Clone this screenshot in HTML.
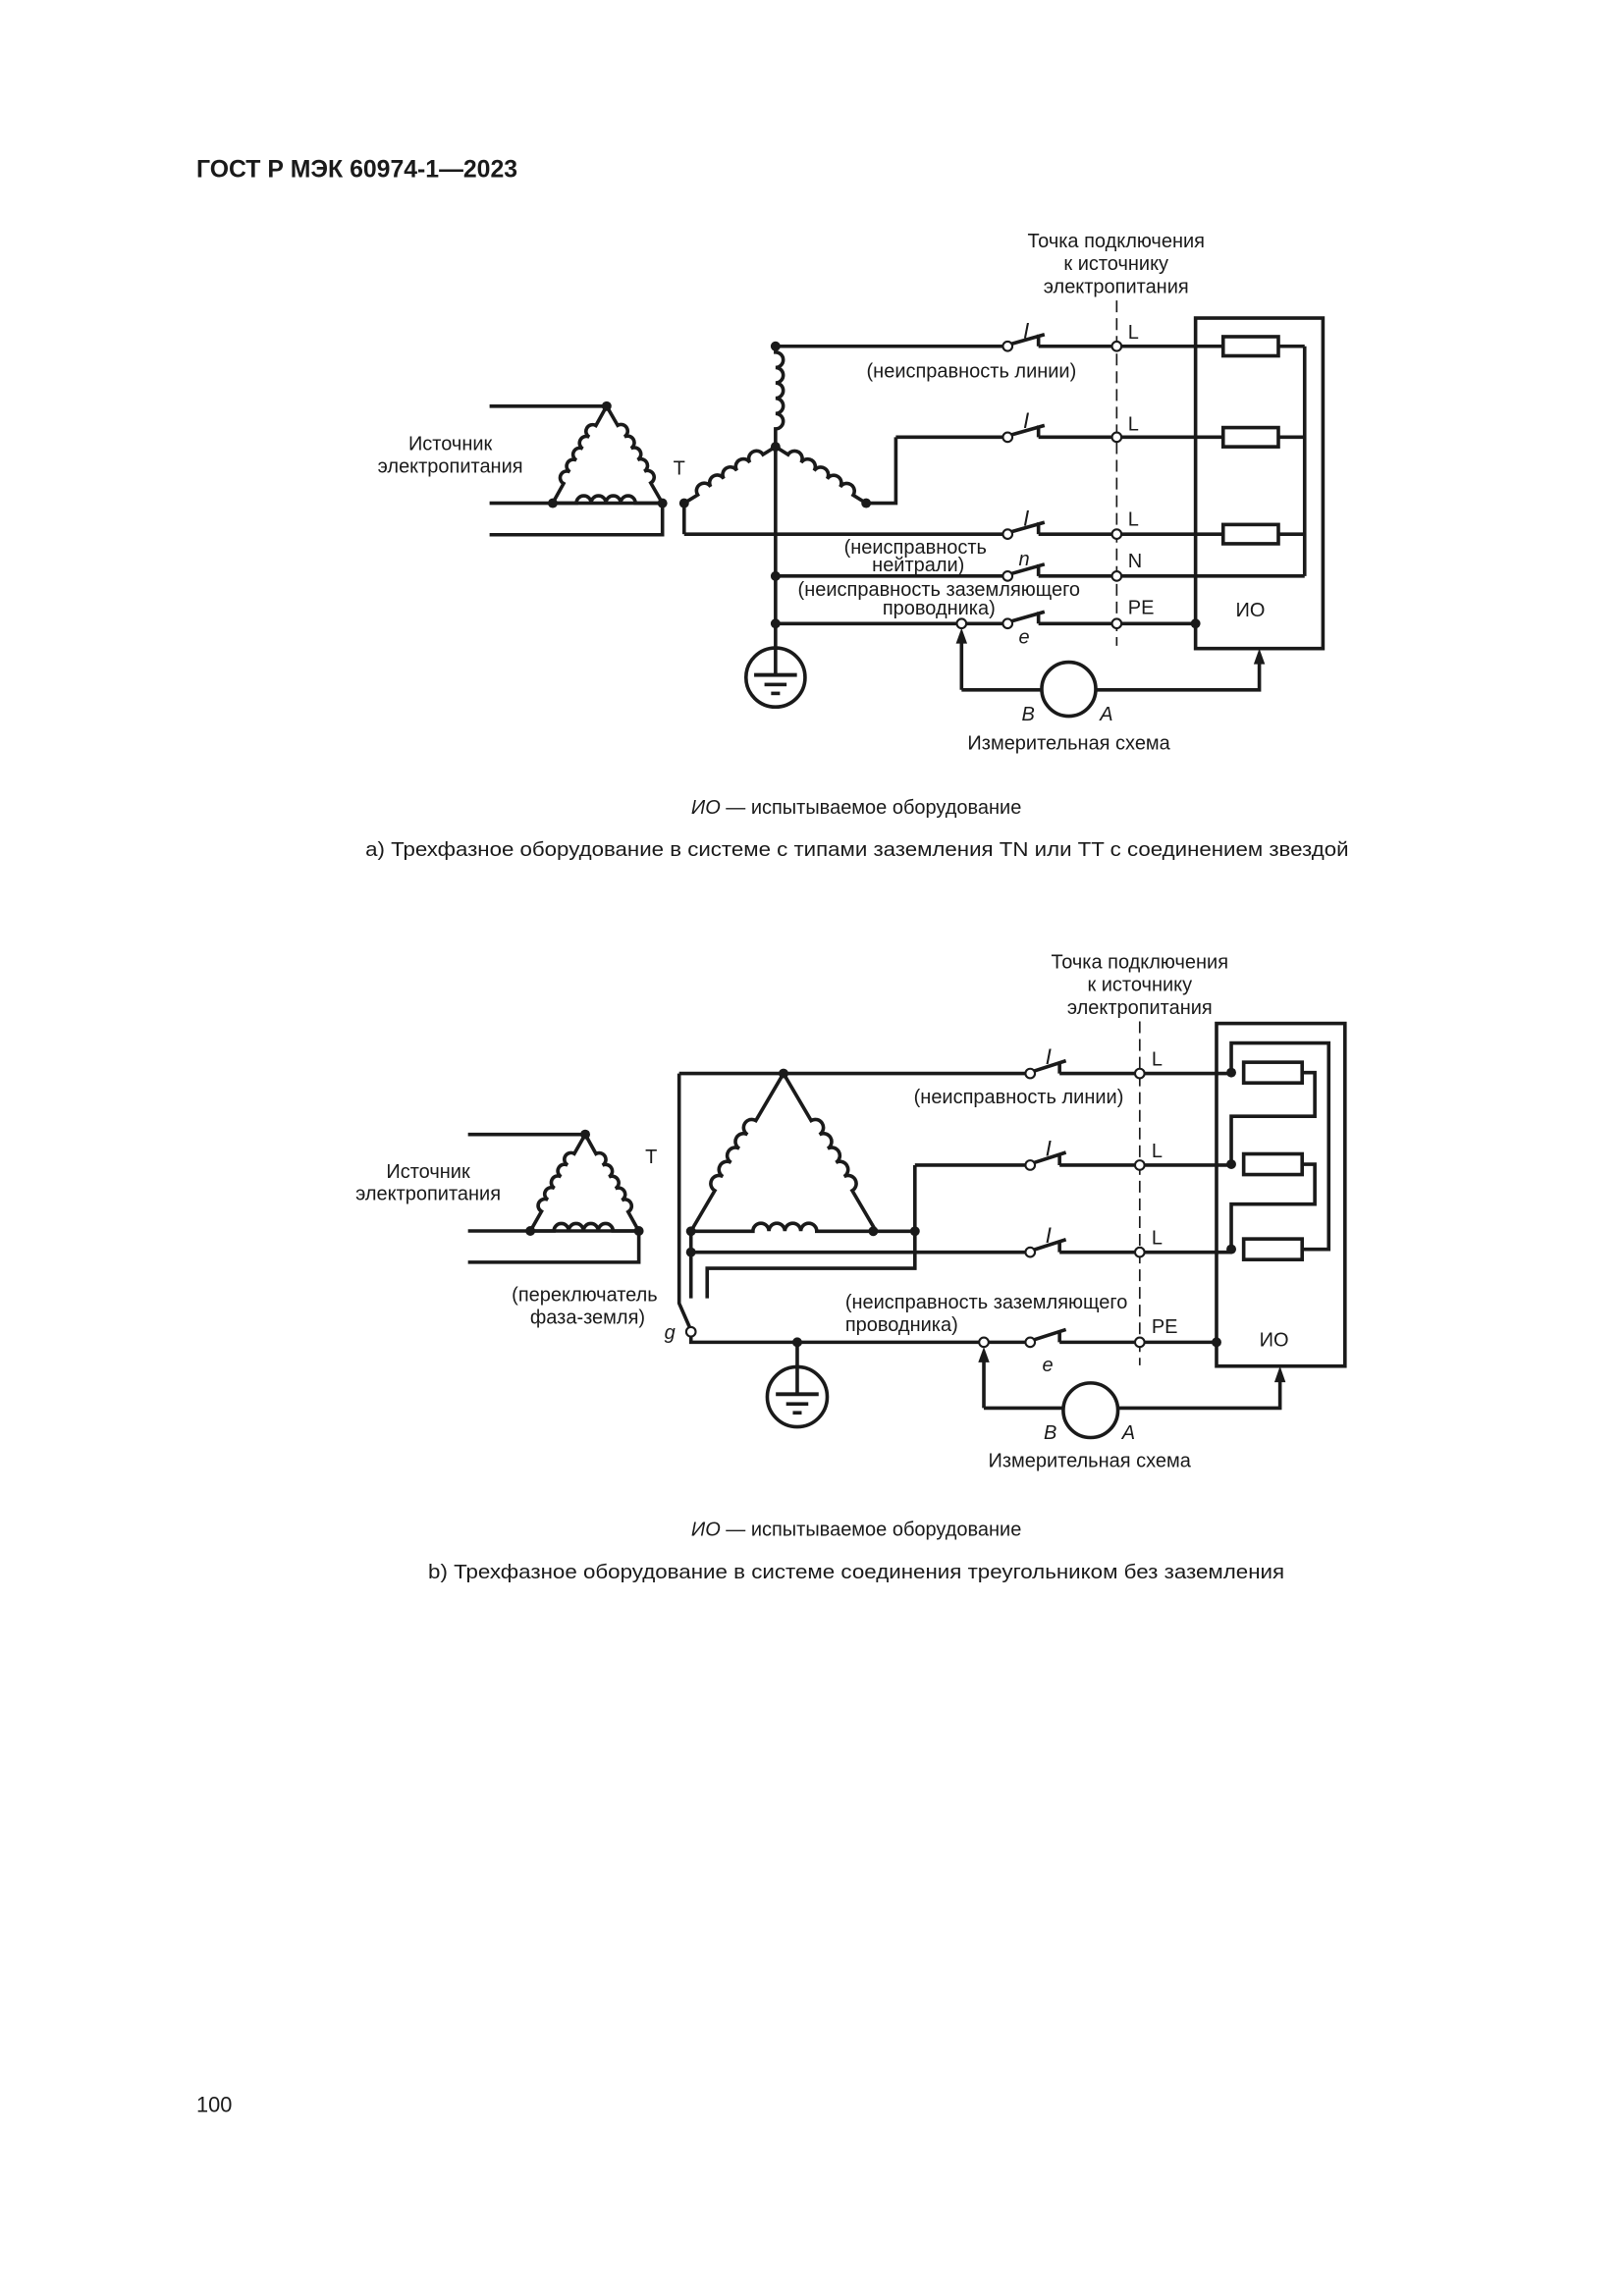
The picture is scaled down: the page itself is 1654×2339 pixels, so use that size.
<!DOCTYPE html>
<html><head><meta charset="utf-8"><style>
html,body{margin:0;padding:0;background:#fff;}
svg{display:block;}
text{font-family:"Liberation Sans",sans-serif;fill:#1a1a1a;}
.it{font-family:"Liberation Serif",serif;font-style:italic;}
.is{font-style:italic;}
</style></head><body>
<svg width="1654" height="2339" viewBox="0 0 1100 1555.6" xmlns="http://www.w3.org/2000/svg">
<g fill="none" stroke="#1a1a1a" stroke-width="2.4" stroke-linejoin="miter">
<path d="M331.6 275.2 H410.9 M331.6 340.9 H448.7 M331.6 362.3 H448.7 V340.9"/>
<g transform="translate(410.9 275.2) rotate(119.1)"><path d="M0 0 H15 a4.5 4.5 0 0 0 9 0 a4.5 4.5 0 0 0 9 0 a4.5 4.5 0 0 0 9 0 a4.5 4.5 0 0 0 9 0 a4.5 4.5 0 0 0 9 0 H75.2"/></g>
<g transform="translate(410.9 275.2) rotate(60.1)"><path d="M0 0 H15 a4.5 4.5 0 0 1 9 0 a4.5 4.5 0 0 1 9 0 a4.5 4.5 0 0 1 9 0 a4.5 4.5 0 0 1 9 0 a4.5 4.5 0 0 1 9 0 H75.8"/></g>
<g transform="translate(374.4 340.9)"><path d="M0 0 H16 a5 5 0 0 1 10 0 a5 5 0 0 1 10 0 a5 5 0 0 1 10 0 a5 5 0 0 1 10 0 H74.3"/></g>
<g transform="translate(525.3 234.6) rotate(90)"><path d="M0 0 H4 a5.2 5.2 0 0 1 10.4 0 a5.2 5.2 0 0 1 10.4 0 a5.2 5.2 0 0 1 10.4 0 a5.2 5.2 0 0 1 10.4 0 a5.2 5.2 0 0 1 10.4 0 H68.1"/></g>
<g transform="translate(525.3 302.7) rotate(148.3)"><path d="M0 0 H10 a5.2 5.2 0 0 0 10.4 0 a5.2 5.2 0 0 0 10.4 0 a5.2 5.2 0 0 0 10.4 0 a5.2 5.2 0 0 0 10.4 0 a5.2 5.2 0 0 0 10.4 0 H72.7"/></g>
<g transform="translate(525.3 302.7) rotate(31.9)"><path d="M0 0 H10 a5.2 5.2 0 0 1 10.4 0 a5.2 5.2 0 0 1 10.4 0 a5.2 5.2 0 0 1 10.4 0 a5.2 5.2 0 0 1 10.4 0 a5.2 5.2 0 0 1 10.4 0 H72.3"/></g>
<path d="M525.3 302.7 V457"/>
<path d="M586.7 340.9 H606.8 V296.2"/>
<path d="M463.4 340.9 V361.9"/>
<path d="M525.3 234.6 H679.5 M703.4 234.6 H828.5"/>
<path d="M606.8 296.2 H679.5 M703.4 296.2 H828.5"/>
<path d="M463.4 361.9 H679.5 M703.4 361.9 H828.5"/>
<path d="M525.3 390.3 H679.5 M703.4 390.3 H883.7"/>
<path d="M525.3 422.5 H679.5 M703.4 422.5 H809.8"/>
<path d="M703.4 234.6 v-8 M685 233 L707.5 226.6 M703.4 296.2 v-8 M685 294.6 L707.5 288.2 M703.4 361.9 v-8 M685 360.3 L707.5 353.9 M703.4 390.3 v-8 M685 388.7 L707.5 382.3 M703.4 422.5 v-8 M685 420.9 L707.5 414.5"/>
<rect x="809.8" y="215.5" width="86.3" height="223.9"/>
<rect x="828.5" y="228.1" width="37.4" height="13"/>
<rect x="828.5" y="289.7" width="37.4" height="13"/>
<rect x="828.5" y="355.4" width="37.4" height="13"/>
<path d="M865.9 234.6 H883.7 M865.9 296.2 H883.7 M865.9 361.9 H883.7 M883.7 234.6 V390.3"/>
<path d="M756.4 203.6 V437.5" stroke-width="1.1" stroke-dasharray="8 4"/>
<circle cx="525.3" cy="459" r="20"/>
<path d="M651.3 467.4 V432 M651.3 467.4 H705.6 M742.2 467.4 H853 V448"/>
<circle cx="723.9" cy="466.9" r="18.3"/>
</g>
<g fill="#1a1a1a">
<circle cx="410.9" cy="275.2" r="3.3"/><circle cx="374.4" cy="340.9" r="3.3"/><circle cx="448.7" cy="340.9" r="3.3"/>
<circle cx="463.4" cy="340.9" r="3.3"/><circle cx="586.7" cy="340.9" r="3.3"/><circle cx="525.3" cy="302.7" r="3.3"/>
<circle cx="525.3" cy="234.6" r="3.3"/><circle cx="525.3" cy="390.3" r="3.3"/><circle cx="525.3" cy="422.5" r="3.3"/>
<circle cx="809.8" cy="422.5" r="3.3"/>
<rect x="510.8" y="456" width="29" height="2.6"/><rect x="517.8" y="462.6" width="15" height="2.4"/><rect x="522.3" y="468.6" width="6" height="2.4"/>
<path d="M651.3 425.5 L647.5 436 L655.1 436 Z"/><path d="M853 439.4 L849.2 450 L856.8 450 Z"/>
</g>
<g fill="#fff" stroke="#1a1a1a" stroke-width="1.4">
<circle cx="682.5" cy="234.6" r="3.2"/><circle cx="682.5" cy="296.2" r="3.2"/><circle cx="682.5" cy="361.9" r="3.2"/><circle cx="682.5" cy="390.3" r="3.2"/><circle cx="682.5" cy="422.5" r="3.2"/>
<circle cx="756.4" cy="234.6" r="3.2"/><circle cx="756.4" cy="296.2" r="3.2"/><circle cx="756.4" cy="361.9" r="3.2"/><circle cx="756.4" cy="390.3" r="3.2"/><circle cx="756.4" cy="422.5" r="3.2"/>
<circle cx="651.3" cy="422.5" r="3.2"/>
</g>

<g fill="none" stroke="#1a1a1a" stroke-width="2.4">
<path d="M317 768.6 H396.4 M317 834 H432.7 M317 855.2 H432.7 V834"/>
<g transform="translate(396.4 768.6) rotate(119.6)"><path d="M0 0 H15 a4.5 4.5 0 0 0 9 0 a4.5 4.5 0 0 0 9 0 a4.5 4.5 0 0 0 9 0 a4.5 4.5 0 0 0 9 0 a4.5 4.5 0 0 0 9 0 H75.2"/></g>
<g transform="translate(396.4 768.6) rotate(61)"><path d="M0 0 H15 a4.5 4.5 0 0 1 9 0 a4.5 4.5 0 0 1 9 0 a4.5 4.5 0 0 1 9 0 a4.5 4.5 0 0 1 9 0 a4.5 4.5 0 0 1 9 0 H75.4"/></g>
<g transform="translate(359.2 834)"><path d="M0 0 H16 a5 5 0 0 1 10 0 a5 5 0 0 1 10 0 a5 5 0 0 1 10 0 a5 5 0 0 1 10 0 H73.5"/></g>
<g transform="translate(530.7 727.3) rotate(120.4)"><path d="M0 0 H37 a5.5 5.5 0 0 0 11 0 a5.5 5.5 0 0 0 11 0 a5.5 5.5 0 0 0 11 0 a5.5 5.5 0 0 0 11 0 a5.5 5.5 0 0 0 11 0 H123.9"/></g>
<g transform="translate(530.7 727.3) rotate(59.6)"><path d="M0 0 H37 a5.5 5.5 0 0 1 11 0 a5.5 5.5 0 0 1 11 0 a5.5 5.5 0 0 1 11 0 a5.5 5.5 0 0 1 11 0 a5.5 5.5 0 0 1 11 0 H124.5"/></g>
<g transform="translate(468 834.2)"><path d="M0 0 H42 a5.4 5.4 0 0 1 10.8 0 a5.4 5.4 0 0 1 10.8 0 a5.4 5.4 0 0 1 10.8 0 a5.4 5.4 0 0 1 10.8 0 H151.7"/></g>
<path d="M619.7 789.4 V859.3 H479 V879.6"/>
<path d="M468 834.2 V879.6"/>
<path d="M460 727.3 H694.8 M717.7 727.3 H834"/>
<path d="M619.7 789.4 H694.8 M717.7 789.4 H834"/>
<path d="M468 848.4 H694.8 M717.7 848.4 H834"/>
<path d="M460 727.3 V883 L467 899"/>
<path d="M468 905 V909.4 H694.8 M717.7 909.4 H824"/>
<path d="M717.7 727.3 v-8 M700.2 725.7 L722 718.7 M717.7 789.4 v-8 M700.2 787.8 L722 780.8 M717.7 848.4 v-8 M700.2 846.8 L722 839.8 M717.7 909.4 v-8 M700.2 907.8 L722 900.8"/>
<rect x="824" y="693.4" width="87" height="232.2"/>
<rect x="842.4" y="719.7" width="39.6" height="14"/>
<rect x="842.4" y="781.8" width="39.6" height="14"/>
<rect x="842.4" y="839.4" width="39.6" height="14"/>
<path d="M882 726.7 H890.6 V756.3 H834 V788.8 M882 788.8 H890.6 V815.8 H834 V846.4 M882 846.4 H900 V706.7 H834 V726.7"/>
<path d="M772 692 V925" stroke-width="1.1" stroke-dasharray="8 4"/>
<path d="M540 909.4 V944"/>
<circle cx="540" cy="946.4" r="20.3"/>
<path d="M666.4 954 V919 M666.4 954 H720.2 M757.2 954 H867 V936"/>
<circle cx="738.7" cy="955.5" r="18.5"/>
</g>
<g fill="#1a1a1a">
<circle cx="396.4" cy="768.6" r="3.3"/><circle cx="359.2" cy="834" r="3.3"/><circle cx="432.7" cy="834" r="3.3"/>
<circle cx="530.7" cy="727.3" r="3.3"/><circle cx="468" cy="834.2" r="3.3"/><circle cx="591.5" cy="834.2" r="3.3"/><circle cx="619.7" cy="834.2" r="3.3"/>
<circle cx="468" cy="848.4" r="3.3"/><circle cx="540" cy="909.4" r="3.3"/><circle cx="824" cy="909.4" r="3.3"/>
<circle cx="834" cy="726.7" r="3.3"/><circle cx="834" cy="788.8" r="3.3"/><circle cx="834" cy="846.4" r="3.3"/>
<rect x="525.5" y="943.3" width="29" height="2.6"/><rect x="532.5" y="950" width="15" height="2.4"/><rect x="537" y="956" width="6" height="2.4"/>
<path d="M666.4 912.6 L662.6 923 L670.2 923 Z"/><path d="M867 925.6 L863.2 936.5 L870.8 936.5 Z"/>
</g>
<g fill="#fff" stroke="#1a1a1a" stroke-width="1.4">
<circle cx="697.8" cy="727.3" r="3.2"/><circle cx="697.8" cy="789.4" r="3.2"/><circle cx="697.8" cy="848.4" r="3.2"/><circle cx="697.8" cy="909.4" r="3.2"/>
<circle cx="772" cy="727.3" r="3.2"/><circle cx="772" cy="789.4" r="3.2"/><circle cx="772" cy="848.4" r="3.2"/><circle cx="772" cy="909.4" r="3.2"/>
<circle cx="666.4" cy="909.4" r="3.2"/><circle cx="468" cy="902.3" r="3.2"/>
</g>

<text x="133" y="120" font-size="16.5" font-weight="bold">ГОСТ Р МЭК 60974-1—2023</text>
<g font-size="13.3" text-anchor="middle">
<text x="756" y="167.5">Точка подключения</text>
<text x="756" y="183">к источнику</text>
<text x="756" y="198.5">электропитания</text>
<text x="305" y="304.8">Источник</text>
<text x="305" y="320.3">электропитания</text>
<text x="658" y="255.8">(неисправность линии)</text>
<text x="620" y="375.2">(неисправность</text>
<text x="622" y="387.1">нейтрали)</text>
<text x="636" y="403.8">(неисправность заземляющего</text>
<text x="636" y="416.3">проводника)</text>
<text x="724" y="507.7">Измерительная схема</text>
</g>
<g font-size="13.3">
<text x="456" y="321.5">T</text>
<text x="764" y="229.5">L</text><text x="764" y="291.5">L</text><text x="764" y="356">L</text>
<text x="764" y="384.5">N</text><text x="764" y="416">PE</text>
<text x="837" y="417.5">ИО</text>
<text x="692" y="488" class="is">B</text><text x="745" y="488" class="is">A</text>
<text x="690" y="383" class="is">n</text><text x="690" y="436" class="is">e</text>
</g>
<g font-size="15" class="it">
<text x="693" y="229">I</text><text x="693" y="290">I</text><text x="693" y="356">I</text>
</g>
<g font-size="13.3" text-anchor="middle">
<text x="580" y="551.5"><tspan class="is">ИО</tspan> — испытываемое оборудование</text>
<text x="580.5" y="580" textLength="666" lengthAdjust="spacingAndGlyphs">а) Трехфазное оборудование в системе с типами заземления TN или TT с соединением звездой</text>
</g>

<g font-size="13.3" text-anchor="middle">
<text x="772" y="656">Точка подключения</text>
<text x="772" y="671.5">к источнику</text>
<text x="772" y="687">электропитания</text>
<text x="290" y="798">Источник</text>
<text x="290" y="813">электропитания</text>
<text x="690" y="747.5">(неисправность линии)</text>
<text x="396" y="881.5">(переключатель</text>
<text x="398" y="897">фаза-земля)</text>
<text x="738" y="994">Измерительная схема</text>
</g>
<g font-size="13.3">
<text x="572.5" y="886.5">(неисправность заземляющего</text>
<text x="572.5" y="902">проводника)</text>
<text x="437" y="788">T</text>
<text x="780" y="722">L</text><text x="780" y="784">L</text><text x="780" y="843">L</text>
<text x="780" y="903">PE</text>
<text x="853" y="912">ИО</text>
<text x="707" y="975" class="is">B</text><text x="760" y="975" class="is">A</text>
<text x="450" y="907" class="is">g</text>
<text x="706" y="929" class="is">e</text>
</g>
<g font-size="15" class="it">
<text x="708" y="721">I</text><text x="708" y="783">I</text><text x="708" y="842">I</text>
</g>
<g font-size="13.3" text-anchor="middle">
<text x="580" y="1040.5"><tspan class="is">ИО</tspan> — испытываемое оборудование</text>
<text x="580" y="1069.5" textLength="580" lengthAdjust="spacingAndGlyphs">b) Трехфазное оборудование в системе соединения треугольником без заземления</text>
</g>
<text x="133" y="1431" font-size="14.5">100</text>
</svg>
</body></html>
